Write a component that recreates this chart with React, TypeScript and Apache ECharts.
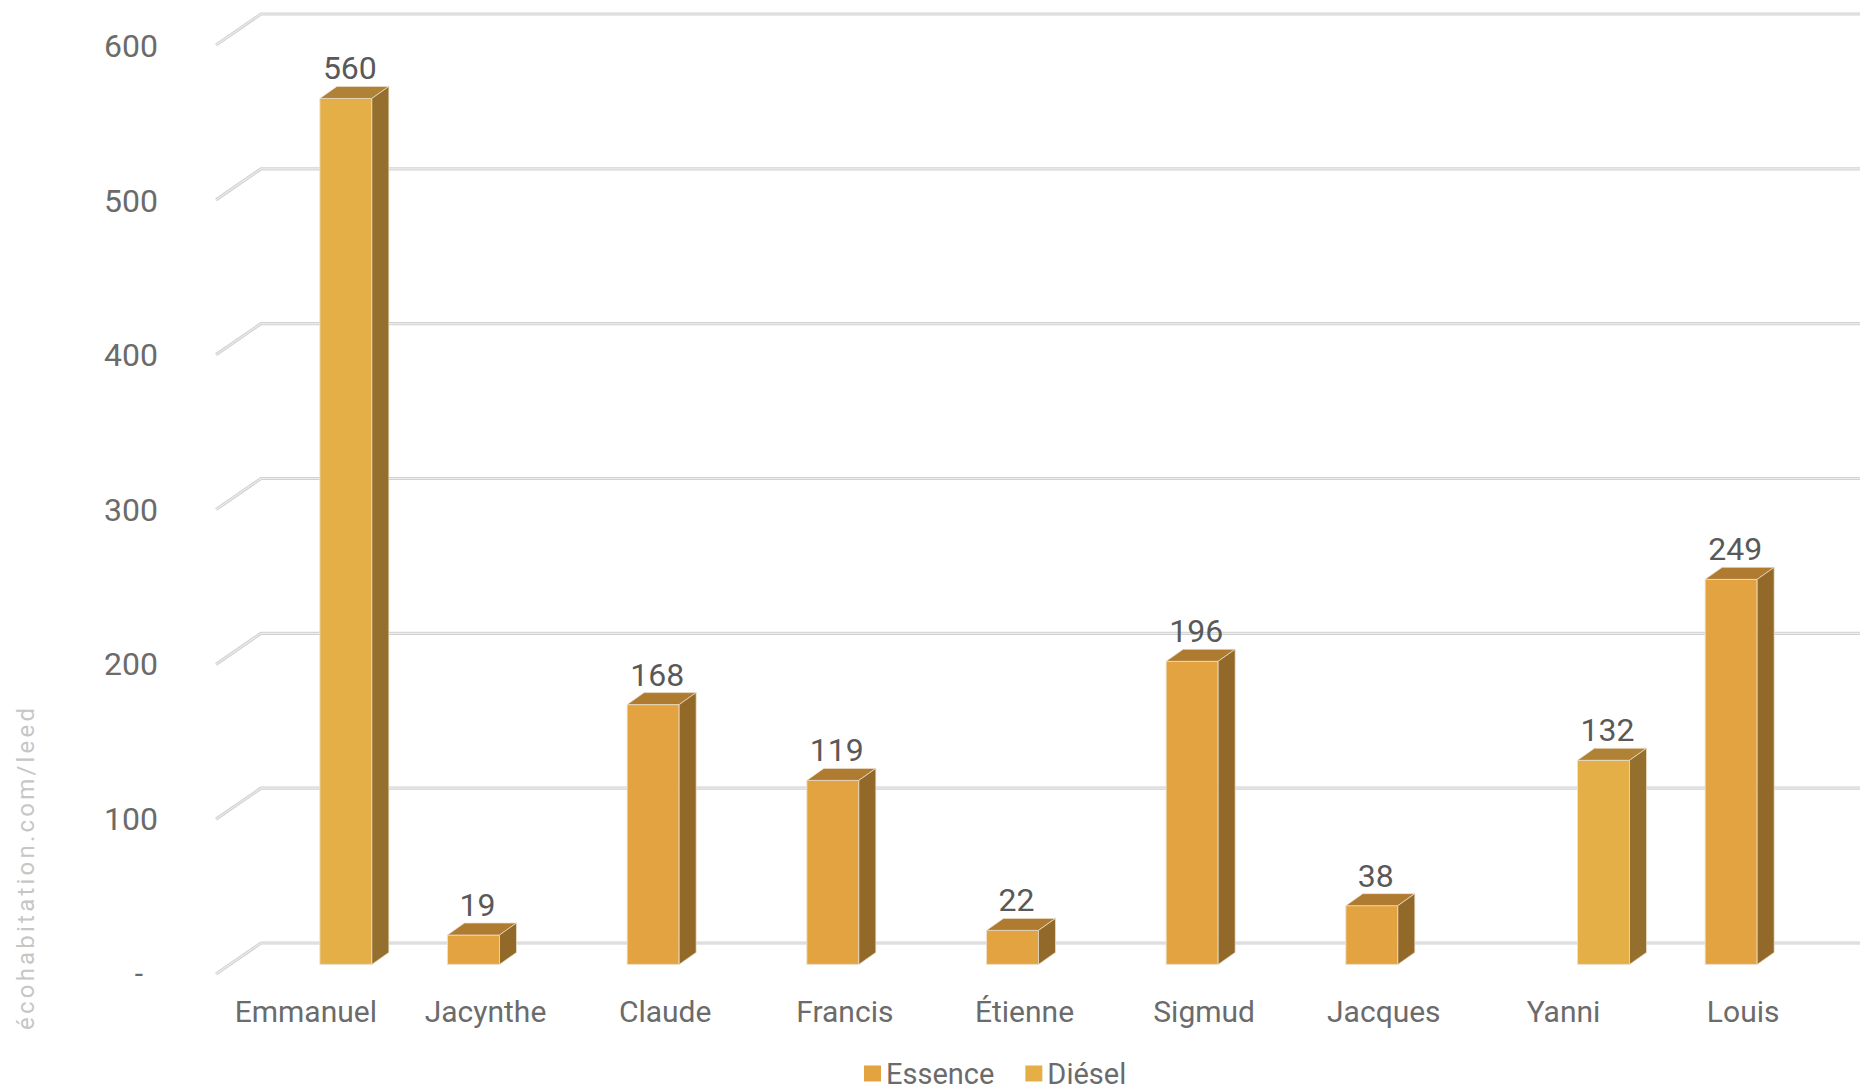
import React, { useEffect, useRef } from "react";
import * as echarts from "echarts";

// Categories and values
const categories = ["Emmanuel", "Jacynthe", "Claude", "Francis", "Étienne", "Sigmud", "Jacques", "Yanni", "Louis"];
const essence: (number | null)[] = [null, 19, 168, 119, 22, 196, 38, null, 249];
const diesel: (number | null)[] = [560, null, null, null, null, null, null, 132, null];
const yTicks = [0, 100, 200, 300, 400, 500, 600];
const seriesNames = ["Essence", "Diésel"];
const watermark = "écohabitation.com/leed";

const FONT = "Roboto, 'Noto Sans', sans-serif";

const palettes: Record<string, { front: string; top: string; side: string }> = {
  Essence: { front: "#E3A340", top: "#AE7B31", side: "#93692A" },
  "Diésel": { front: "#E5AF48", top: "#B08235", side: "#956F2D" },
};

// box depth of the 3D columns (px)
const DX = 17;
const DY = 12;
// back wall offset relative to the front plane (px)
const WALL_DX = 45;
const WALL_DY = 31;

function barRenderer(offsetRatio: number, pal: { front: string; top: string; side: string }) {
  return (params: any, api: any) => {
    const v = api.value(1);
    if (v == null || isNaN(v)) return null;
    const cat = api.value(0);
    const base = api.coord([cat, 0]);
    const top = api.coord([cat, v]);
    const band = api.size([1, 0])[0];
    const w = band * 0.2895;
    const x0 = base[0] + band * offsetRatio;
    const x1 = x0 + w;
    const yb = base[1];
    const yt = top[1];
    const edge = "rgba(236,226,206,0.9)";
    return {
      type: "group",
      children: [
        {
          type: "rect",
          shape: { x: x0, y: yt, width: w, height: yb - yt },
          style: { fill: pal.front, stroke: edge, lineWidth: 1 },
        },
        {
          type: "polygon",
          shape: { points: [[x0, yt], [x1, yt], [x1 + DX, yt - DY], [x0 + DX, yt - DY]] },
          style: { fill: pal.top, stroke: edge, lineWidth: 0.8 },
        },
        {
          type: "polygon",
          shape: { points: [[x1, yt], [x1 + DX, yt - DY], [x1 + DX, yb - DY], [x1, yb]] },
          style: { fill: pal.side, stroke: edge, lineWidth: 0.8 },
        },
        {
          type: "text",
          x: x0 + w / 2 + 4,
          y: yt - DY - 18,
          style: {
            text: String(v),
            fontSize: 32,
            fontFamily: FONT,
            fill: "#595959",
            align: "center",
            verticalAlign: "middle",
          },
        },
      ],
    };
  };
}

function wallRenderer(params: any, api: any) {
  const v = api.value(1);
  const p = api.coord([0, v]);
  const front = [p[0] - WALL_DX, p[1] + WALL_DY];
  const pts = [front, p, [p[0] + 2200, p[1]]];
  return {
    type: "group",
    children: [
      { type: "polyline", shape: { points: pts }, style: { stroke: "#d2d2d2", lineWidth: 3.2, fill: "none", lineJoin: "round" } },
      { type: "polyline", shape: { points: pts }, style: { stroke: "#ececec", lineWidth: 1.1, fill: "none", lineJoin: "round" } },
    ],
  };
}

function buildWatermark() {
  const size = 24;
  const total = 322;
  const ctx = document.createElement("canvas").getContext("2d");
  const widths: number[] = [];
  let sum = 0;
  for (const ch of watermark) {
    let w = size * 0.5;
    if (ctx) {
      ctx.font = `${size}px Roboto`;
      w = ctx.measureText(ch).width;
    }
    widths.push(w);
    sum += w;
  }
  const chars = Array.from(watermark);
  const gap = (total - sum) / (chars.length - 1);
  let x = 0;
  const children = chars.map((ch, i) => {
    const el = {
      type: "text",
      x,
      y: 0,
      style: { text: ch, fontSize: size, fontFamily: "Roboto", fill: "#c6c6c6", align: "left", verticalAlign: "middle" },
    };
    x += widths[i] + gap;
    return el;
  });
  return { type: "group", x: 26, y: 1030, rotation: Math.PI / 2, children };
}

export default function App() {
  const ref = useRef<HTMLDivElement>(null);
  useEffect(() => {
    if (!ref.current) return;
    const chart = echarts.init(ref.current, null, { renderer: "svg" });
    const option: any = {
      animation: false,
      backgroundColor: "#ffffff",
      textStyle: { fontFamily: FONT },
      graphic: [buildWatermark()],
      legend: {
        data: seriesNames,
        left: 864,
        top: 1059,
        padding: 0,
        icon: "rect",
        itemWidth: 17,
        itemHeight: 16,
        itemGap: 31,
        textStyle: { fontSize: 29, lineHeight: 26, color: "#6b6b6b", fontFamily: FONT },
      },
      grid: [
        // back wall
        { left: 261, top: 14, width: 1617, height: 929 },
        // front plane (axis labels)
        { left: 216, right: 27, top: 46, bottom: 118 },
        // columns
        { left: 216, right: 27, top: 36.6, bottom: 126.6 },
      ],
      xAxis: [
        { gridIndex: 0, type: "value", min: 0, max: 1, show: false },
        {
          gridIndex: 1,
          type: "category",
          data: categories,
          axisLine: { show: false },
          axisTick: { show: false },
          axisLabel: { fontSize: 30, lineHeight: 30, color: "#6b6b6b", margin: 23, fontFamily: FONT, interval: 0 },
        },
        { gridIndex: 2, type: "category", data: categories, show: false },
      ],
      yAxis: [
        { gridIndex: 0, type: "value", min: 0, max: 600, interval: 100, show: false },
        {
          gridIndex: 1,
          type: "value",
          min: 0,
          max: 600,
          interval: 100,
          axisLine: { show: false },
          axisTick: { show: false },
          splitLine: { show: false },
          axisLabel: {
            fontSize: 32,
            color: "#6b6b6b",
            margin: 58,
            fontFamily: FONT,
            formatter: (v: number) => (v === 0 ? "{z|-}" : String(v)),
            rich: { z: { fontSize: 30, color: "#6b6b6b", padding: [0, 15, 0, 0], fontFamily: FONT } },
          },
        },
        { gridIndex: 2, type: "value", min: 0, max: 600, show: false },
      ],
      series: [
        {
          type: "custom",
          name: "wall",
          xAxisIndex: 0,
          yAxisIndex: 0,
          clip: false,
          silent: true,
          z: 1,
          renderItem: wallRenderer,
          data: yTicks.map((v) => [0, v]),
        },
        {
          type: "custom",
          name: seriesNames[0],
          xAxisIndex: 2,
          yAxisIndex: 2,
          clip: false,
          z: 3,
          itemStyle: { color: palettes[seriesNames[0]].front },
          renderItem: barRenderer(-0.2116, palettes[seriesNames[0]]),
          data: essence.map((v, i) => [i, v]).filter((d) => d[1] != null),
        },
        {
          type: "custom",
          name: seriesNames[1],
          xAxisIndex: 2,
          yAxisIndex: 2,
          clip: false,
          z: 3,
          itemStyle: { color: palettes[seriesNames[1]].front },
          renderItem: barRenderer(0.078, palettes[seriesNames[1]]),
          data: diesel.map((v, i) => [i, v]).filter((d) => d[1] != null),
        },
      ],
    };
    chart.setOption(option);
    return () => chart.dispose();
  }, []);
  return <div ref={ref} style={{ position: "absolute", left: 0, top: 0, width: 1860, height: 1091 }} />;
}
